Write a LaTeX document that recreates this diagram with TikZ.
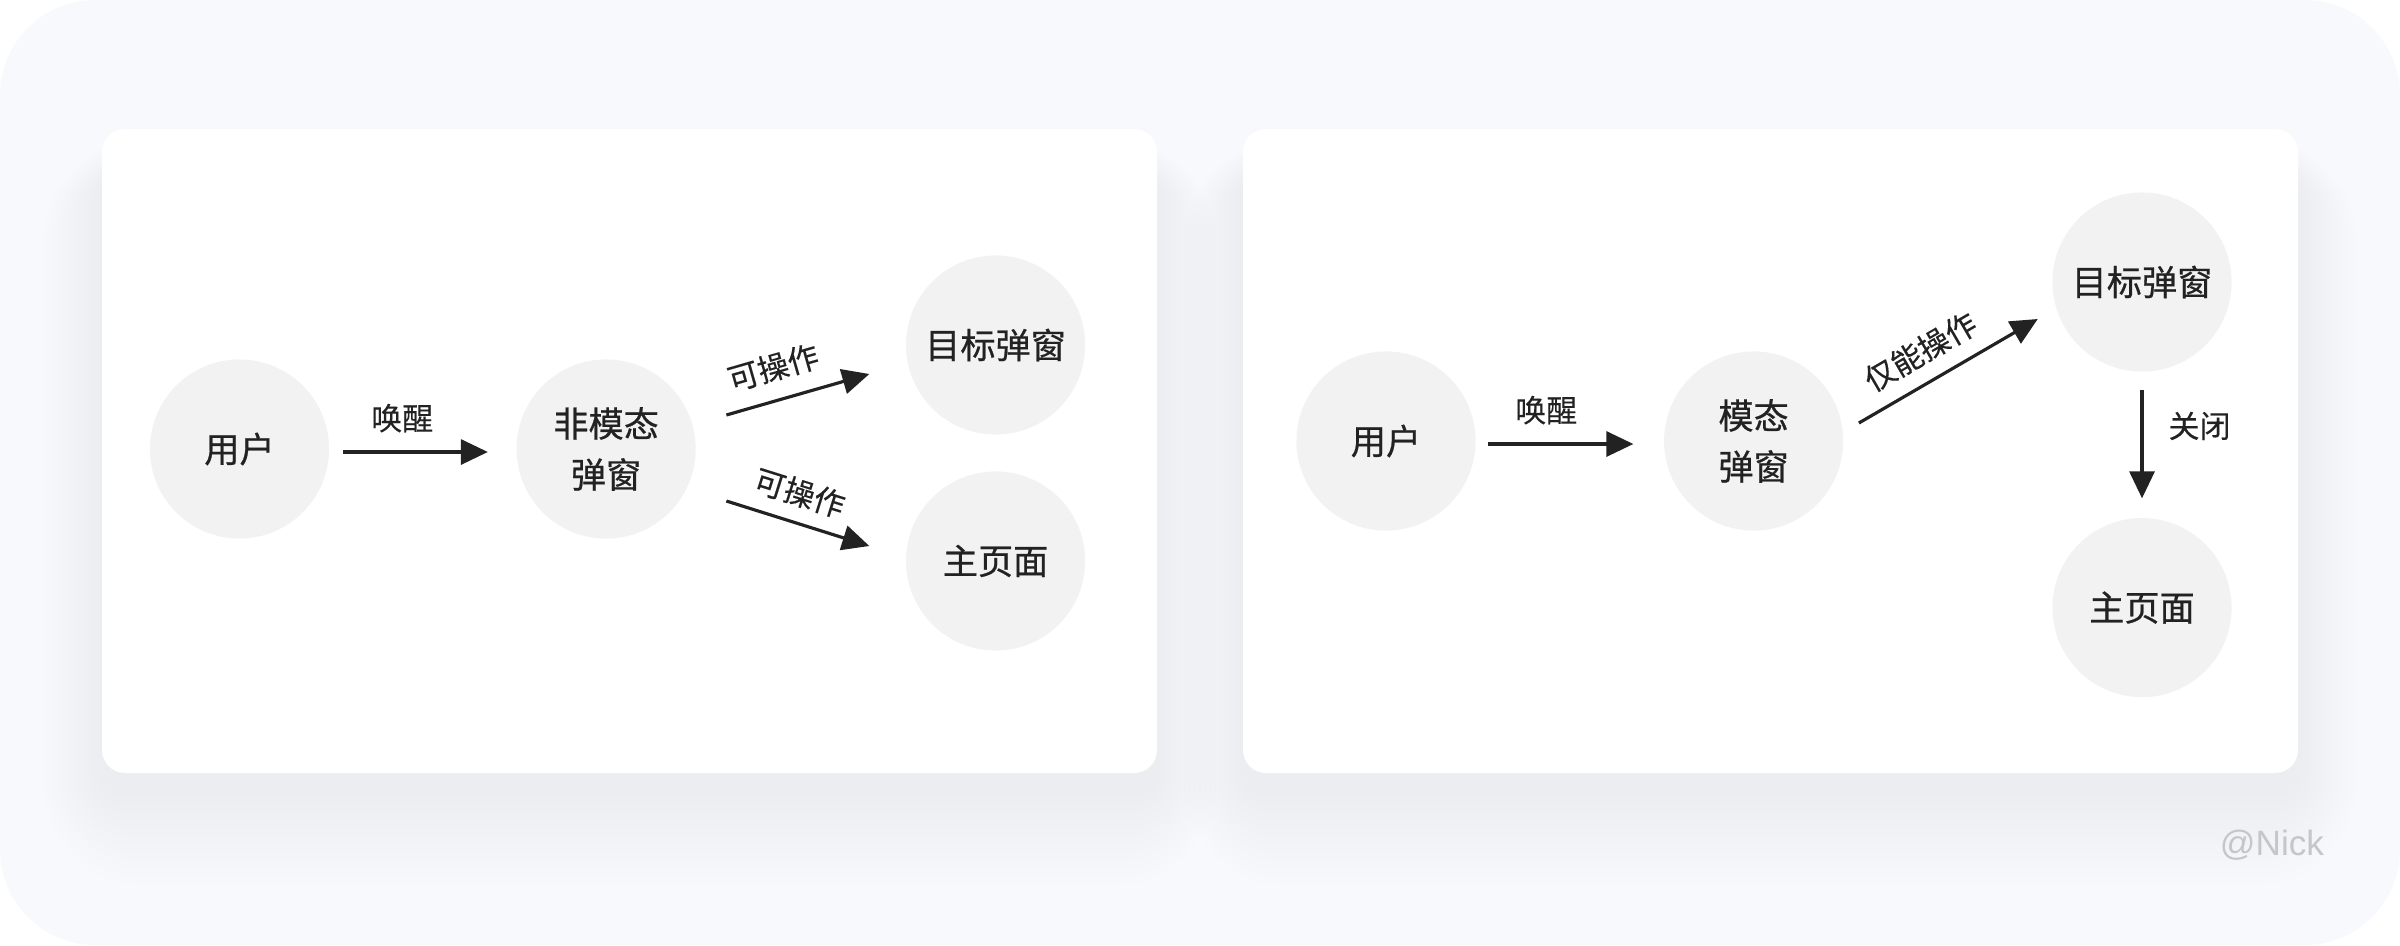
\documentclass[tikz,border=0pt]{standalone}
\usepackage{fontspec}
\setmainfont{Noto Sans CJK SC}
\newfontfamily\nodefont[FakeBold=0.6]{Noto Sans CJK SC}
\newfontfamily\lblfont[FakeBold=0.25]{Noto Sans CJK SC}
\newfontfamily\nickfont{Liberation Sans}
\usetikzlibrary{positioning, arrows.meta}
\definecolor{pagebg}{HTML}{F8F9FD}
\definecolor{circlefill}{HTML}{F2F2F2}
\definecolor{inkdark}{HTML}{222222}
\definecolor{shadowgray}{HTML}{7A82A0}
\definecolor{nickgray}{HTML}{C6C6C6}
\tikzset{
    base/.style={circle, fill=circlefill, minimum size=1.79cm, inner sep=0pt, align=center, text=inkdark, font=\nodefont\fontsize{10}{14.5}\selectfont},
    card/.style={fill=white, rounded corners=0.23cm},
    cardshadow/.style={fill=shadowgray, opacity=0.008},
    arrow/.style={-{Triangle[length=0.27cm, width=0.25cm]}, line width=0.9pt, draw=inkdark},
    lbl/.style={font=\lblfont\fontsize{8.8}{10}\selectfont, text=inkdark, inner sep=0pt}
}

\begin{document}
\begin{tikzpicture}[x=0.01cm, y=-0.01cm]
    \useasboundingbox (0,0) rectangle (2400,945);
    % Background and cards
    \fill[pagebg, rounded corners=0.95cm] (0,0) rectangle (2400,945);
    \foreach \cx in {102,1243}
        \foreach \k in {1,...,12}
            \fill[cardshadow, rounded corners=0.23cm+\k*0.07cm] (\cx-\k*5, 175-\k*3) rectangle (\cx+1055+\k*5, 790+\k*8);
    \fill[card] (102,129) rectangle (1157,773);
    \fill[card] (1243,129) rectangle (2298,773);

    % Nodes (left)
    \node [base] (user) at (239.5,449) {用户};
    \node [base, right=1.86cm of user] (nonmodal) {非模态\\弹窗};
    \node [base] (target) at (995.6,345) {目标弹窗};
    \node [base] (home) at (995.6,561) {主页面};

    % Nodes (right)
    \node [base] (user2) at (1386,441) {用户};
    \node [base, right=1.87cm of user2] (modal) {模态\\弹窗};
    \node [base] (target2) at (2142,282) {目标弹窗};
    \node [base, below=1.45cm of target2] (home2) {主页面};

    \node [font=\nickfont\fontsize{10}{12}\selectfont, text=nickgray] (nick) at (2272,845) {@Nick};

    % Connections (left)
    \draw [arrow] ([shift={(13,3)}]user.east) -- node[lbl, pos=0.41, above=0.18cm] {唤醒} ([shift={(-28,3)}]nonmodal.west);
    \draw [arrow] ([shift={(30,-34)}]nonmodal.east) -- node[lbl, pos=0.39, sloped, above=0.17cm] {可操作} ([shift={(-36,29)}]target.west);
    \draw [arrow] ([shift={(30,52)}]nonmodal.east) -- node[lbl, pos=0.45, sloped, above=0.14cm] {可操作} ([shift={(-36,-15)}]home.west);

    % Connections (right)
    \draw [arrow] ([shift={(12,3)}]user2.east) -- node[lbl, pos=0.40, above=0.18cm] {唤醒} ([shift={(-30,3)}]modal.west);
    \draw [arrow] ([shift={(15,-18)}]modal.east) -- node[lbl, pos=0.43, sloped, above=0.15cm] {仅能操作} ([shift={(-14,37)}]target2.west);
    \draw [arrow] ([shift={(0,18)}]target2.south) -- node[lbl, pos=0.33, right=0.25cm] {关闭} ([shift={(0,-19)}]home2.north);
\end{tikzpicture}
\end{document}
